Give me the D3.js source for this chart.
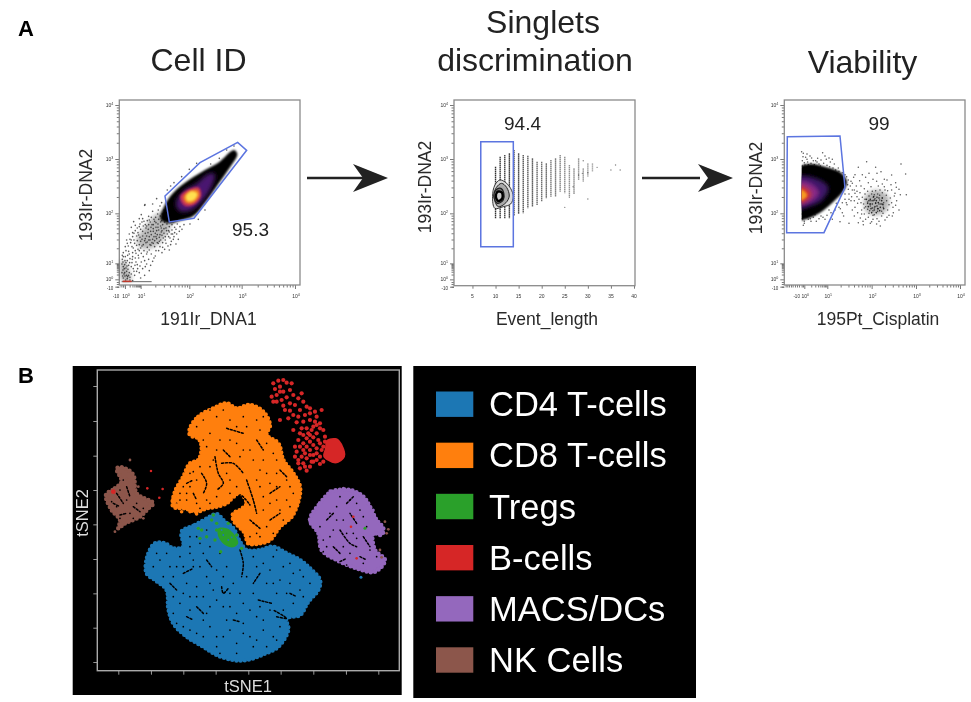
<!DOCTYPE html>
<html><head><meta charset="utf-8">
<script src="https://cdnjs.cloudflare.com/ajax/libs/d3/7.8.5/d3.min.js"></script>
<style>html,body{margin:0;padding:0;background:#fff}svg{display:block}text{font-family:"Liberation Sans",Arial,sans-serif}</style>
</head><body><div id="c"></div>
<script>
// ---------- labels ----------
const titles = [["Cell ID"],["Singlets","discrimination"],["Viability"]];
const xLabels = ["191Ir_DNA1","Event_length","195Pt_Cisplatin"];
const yLabel = "193Ir-DNA2";
const gateValues = ["95.3","94.4","99"];
const categories = ["CD4 T-cells","CD8 T-cells","Tregs","B-cells","MACS/DCs","NK Cells"];
const colors = ["#1f77b4","#ff7f0e","#2ca02c","#d62728","#9467bd","#8c564b"];
const decadeLabels = ["0","1","2","3","4"];

// ---------- display-channel positions of the biexponential decades ----------
const p1XDecades = [105,152,298,455,615];
const yDecades = [32,80,230,393,555];
const p3XDecades = [178,247,380,513,645];
const eventTicks = [5,10,15,20,25,30,35,40];
const eventPositions = [158,228,295,364,433,503,572,642];

// ---------- panel 1 (191Ir vs 193Ir channels) ----------
const p1Gate = [[225,282],[330,382],[443,443],[470,419],[312,215],[238,204]];
const p1Black = [[222,250],[250,292],[300,332],[345,360],[385,382],[432,420],[442,408],[418,365],[385,318],[345,262],[310,222],[270,208],[238,200],[212,212]];
const p1Purple = [[258,262],[282,298],[318,318],[355,348],[374,348],[366,312],[332,262],[300,238],[268,238]];
const p1Red = [[270,280],[295,302],[326,308],[334,285],[316,258],[285,252]];
const p1Orange = [[280,278],[298,296],[323,300],[328,282],[310,262],[290,260]];
const p1Yellow = [[288,282],[305,296],[322,289],[311,269],[292,267]];
const p1TailCore = [[225,235],[245,205],[232,170],[195,130],[155,125],[140,150],[165,190],[195,225]];
const p1Corner = [[95,90],[108,80],[118,55],[125,32],[96,28]];
const p1Points = [[210,252],[222,240],[203,228],[188,236],[176,221],[165,256],[150,198],[142,186],[131,205],[128,172],[118,168],[110,150],[106,130],[100,112],[97,92],[96,78],[99,60],[102,48],[148,214],[136,194],[124,188],[115,132],[122,142],[108,118],[132,150],[146,165],[158,176],[170,192],[181,204],[192,212],[204,198],[214,186],[222,170],[236,160],[248,168],[258,182],[244,146],[228,140],[212,150],[198,118],[184,108],[172,128],[160,100],[148,118],[136,96],[126,82],[116,74],[108,66],[118,52],[130,64],[142,76],[154,84],[166,70],[176,92],[188,86],[120,38],[134,44],[148,52],[112,34],[128,28],[105,88],[100,100],[113,104],[128,112],[140,134],[152,146],[166,154],[178,160],[190,176],[202,166],[215,208],[228,216],[175,182],[162,206],[154,226],[164,254],[188,258],[200,274],[215,262],[232,300],[242,312],[252,322],[275,340],[298,362],[320,380],[362,378],[388,395],[410,420],[432,432],[425,396],[402,382],[392,350],[205,140],[218,128],[238,120],[258,138],[265,152],[172,144],[183,134],[194,148],[145,104],[156,132],[116,116],[104,76],[110,44],[140,56],[152,36],[164,44],[178,58],[270,190],[282,196],[300,198],[325,212],[345,240]];
const p1PointsB = [[206,212],[212,204],[218,196],[224,204],[231,198],[238,190],[246,196],[254,188],[262,198],[198,202],[190,196],[183,188],[176,196],[168,186],[160,192],[152,182],[144,172],[136,178],[128,160],[120,152],[112,140],[126,130],[134,140],[142,148],[150,158],[158,162],[166,170],[174,172],[182,176],[190,184],[198,188],[206,180],[214,174],[222,184],[230,178],[238,174],[246,180],[254,172],[226,160],[216,164],[208,158],[200,154],[192,160],[184,166],[176,150],[168,142],[160,136],[152,126],[144,122],[136,118],[128,100],[120,94],[112,88],[106,100],[118,108],[130,126],[138,110],[146,96],[154,110],[162,118],[170,108],[178,120],[186,142],[194,130],[202,142],[210,130],[218,142],[226,150],[234,132],[242,136],[250,152],[196,170],[204,188],[188,152],[180,136],[172,114],[164,88],[150,72],[138,84],[124,70],[114,62],[104,52],[98,42],[100,70],[108,82],[96,52],[97,104],[103,64],[110,56],[116,44],[124,48],[132,56],[100,36],[107,30],[113,40],[120,30],[99,84],[105,42],[111,72],[119,82],[127,92],[135,74],[143,64],[158,64],[170,78],[182,74],[196,102],[206,118],[216,112],[224,122],[192,96],[236,178],[244,168],[252,160],[260,168],[268,176],[276,182],[211,222],[217,228],[205,240],[197,218],[184,218],[172,208],[158,214],[140,162],[132,170],[124,150],[210,166],[220,156],[232,168],[240,156],[186,196],[194,206],[178,210],[166,196],[156,204],[148,190],[200,178],[212,192],[228,186],[234,208],[242,214],[252,206],[260,210],[170,162],[164,148],[156,152],[148,136],[180,150],[190,140],[198,160],[208,146],[216,178]];
const p1Axis = [[95,25],[185,25]];
const p1AxisHot = [[98,26],[125,26]];

// ---------- panel 2 (event length vs 193Ir channel) ----------
const p2Gate = [[6.8,445],[13.85,445],[13.85,130],[6.8,130]];
const p2Columns = [[10,370,215],[11,400,215],[12,405,215],[13,410,215],[14,420,222],[15,410,228],[16,405,230],[17,403,245],[18,395,250],[19,385,255],[20,385,265],[21,380,275],[22,390,280],[23,395,280],[24,405,295],[25,400,290],[26,375,280],[27,365,290],[28,395,330],[29,365,325],[30,380,340],[31,380,355]];
const p2Points = [[32,368],[35,360],[36,375],[37,360],[25,248],[30,273],[27,290],[26,278],[28,345],[29,388],[26.8,310],[28.8,350],[30,352]];
const p2Contours = [
 [[9.35,280],[9.86,315],[10.94,330],[12.25,322],[13.26,305],[13.84,280],[13.26,258],[11.67,250],[9.86,245]],
 [[9.64,282],[10.2,308],[11.3,320],[12.39,308],[12.97,282],[12.25,262],[10.58,250]],
 [[9.64,282],[10.07,300],[11.16,305],[11.8,290],[11.67,270],[10.36,260]],
 [[10.07,280],[10.5,295],[11.38,292],[11.45,275],[10.58,267]]];

// ---------- panel 3 (195Pt vs 193Ir channels) ----------
const p3Gate = [[127,460],[285,462],[300,307],[237,172],[125,172]];
const p3Black = [[165,368],[200,378],[245,368],[288,352],[306,325],[296,298],[262,262],[225,232],[182,212],[165,210]];
const p3Purple = [[160,338],[212,335],[250,308],[232,270],[190,250],[160,245]];
const p3Magenta = [[160,325],[200,318],[222,292],[198,265],[160,258]];
const p3Red = [[160,312],[188,302],[198,285],[178,265],[160,262]];
const p3Orange = [[160,302],[180,295],[186,283],[172,270],[160,268]];
const p3CloudCore = [[360,280],[395,300],[430,280],[425,240],[395,225],[365,235]];
const p3Points = [[175,410],[182,398],[195,402],[205,388],[218,395],[233,412],[244,392],[256,384],[268,378],[178,382],[190,376],[222,378],[280,366],[262,392],[172,228],[178,206],[175,194],[190,212],[205,218],[214,206],[228,222],[240,212],[252,240],[263,228],[274,260],[286,244],[296,222],[312,200],[300,272],[312,288],[322,300],[334,312],[344,328],[352,346],[305,340],[318,326],[330,346],[340,368],[365,385],[372,350],[392,368],[408,355],[418,332],[440,345],[468,378],[482,348],[452,322],[462,302],[484,286],[345,292],[358,304],[370,322],[382,296],[395,326],[405,300],[418,310],[428,298],[438,316],[450,290],[348,262],[360,272],[372,282],[385,278],[398,288],[412,276],[425,268],[440,262],[455,268],[462,240],[350,240],[362,250],[375,258],[388,246],[402,258],[415,248],[428,240],[445,232],[358,228],[372,230],[384,224],[396,214],[410,222],[420,210],[432,224],[380,205],[395,198],[362,212],[346,216],[330,248],[318,268],[306,256],[292,232],[336,280],[322,240],[340,202],[355,196],[285,205],[262,212],[378,268],[392,262],[404,270],[368,242],[384,238],[398,236],[410,236],[376,252],[390,274],[416,262],[352,278],[338,260],[330,290]];
const p3PointsB = [[172,372],[180,375],[188,384],[198,380],[208,376],[216,384],[226,372],[236,380],[246,374],[254,370],[264,366],[272,360],[282,356],[292,352],[300,346],[172,388],[186,392],[200,396],[212,388],[228,390],[174,400],[170,415],[186,408],[240,402],[252,396],[310,330],[316,312],[322,320],[328,300],[336,296],[310,302],[312,272],[320,280],[328,268],[304,262],[292,262],[282,248],[270,240],[258,232],[246,224],[234,218],[222,214],[210,226],[198,206],[186,220],[172,214],[178,200],[196,214],[300,288],[308,316],[326,338],[348,312],[362,338],[384,332],[396,350],[412,318],[426,330],[440,300],[454,308],[368,296],[378,310],[388,286],[400,312],[412,292],[424,284],[436,276],[448,282],[356,258],[368,264],[380,288],[392,298],[404,284],[420,300],[432,256],[444,248],[452,254],[358,246],[370,218],[384,212],[402,206],[414,230],[426,218],[374,238],[388,226],[400,244],[412,258],[360,288],[342,272],[350,228],[338,232],[328,222],[376,200],[406,192],[354,206],[442,222],[466,286]];
const p3CloudDense = [[368,260],[376,272],[386,280],[394,268],[402,276],[410,268],[414,256],[406,248],[396,252],[388,240],[378,244],[370,250],[382,258],[392,260],[400,262],[384,268],[376,258],[408,258],[390,250],[398,244],[372,268],[404,238],[380,232],[394,232],[416,244],[364,272],[382,246],[412,276],[388,270],[396,278]];

// ---------- tSNE panel: cluster outlines, gaps and loose cells ----------
const cd4Outline = [[33.5,48.5],[37.5,50.5],[42,53],[44,53.8],[46.5,51.5],[49,49.5],[51,45.5],[53,43],[57,43],[61,44],[65,42],[69,40],[72,37.5],[75,34],[74.5,31],[71.5,27.5],[69,23.5],[65,22.5],[65.5,19],[62.5,14],[57.5,11.5],[53,10],[49,10],[44,11.5],[40,14],[35,17],[31,21],[29.5,25.5],[29,31],[25.5,34],[23,36],[23.2,41],[25.5,45],[28.5,45],[31,43.5],[34,44]];
const cd8Outline = [[36,79.5],[38.5,83],[43,85.5],[47,87],[50,85.5],[54,86.5],[58,84.5],[60,80.5],[59,77.5],[62.5,75],[64,70],[67,66],[69,62],[68.5,57.5],[66.5,53],[63,50],[60,46],[57,45],[53.5,45],[52.5,48],[49,52],[49,54],[51,55],[53,57],[51,60],[48,58],[47,57],[44,56],[41,55.5],[38,54.5],[34.5,55.5],[31,56],[31.5,60.5],[34,65],[36,69],[38.5,70],[39.5,74],[38.5,76.5],[36,77.5]];
const tregOutline = [[44.5,49.5],[47,49.5],[49,48],[50.5,45],[49,43.8],[46.5,44.5],[44.5,47]];
const bDense = [[77,76],[80,76.5],[82,74],[82.5,71],[80,69],[78,69.5],[76,71],[76.5,73.5]];
const macsOutline = [[72,52],[75,57],[78.5,60.5],[84,61],[88,59],[90,56],[92,52],[94,49.5],[93.5,47.5],[91,48],[91.5,43],[94.5,40],[91.5,36.5],[86,37.5],[80,40],[75.5,43],[74.5,48]];
const nkOutline = [[10.8,59.5],[13.5,61.5],[15.5,63.5],[14,67.5],[16.5,67.5],[19,65.5],[20,60],[25,57],[23.5,55.5],[21,53],[16.5,51],[14.5,49.5],[15,52],[12.5,55]];
const cd4Gaps = [[[51,43],[52,39],[51.5,35]],[[56.5,28],[60.5,27]],[[62,23],[65,22.5],[61,25]],[[45.5,32],[46,30],[47.5,31.5]],[[34,36],[37,37.5]],[[30,33],[32,31]],[[41,40],[42.5,38]],[[49,22],[51,21.5]],[[38,26],[40,24]],[[66,30],[68,29]],[[35,23],[37,22]],[[57,36],[55,33]]];
const cd8Gaps = [[[39.5,66],[41,63],[40,60]],[[43.5,71],[44.5,66],[46,63],[44,61]],[[45.5,69],[49,69],[52,66]],[[53,64],[55,58],[56,54]],[[47,79.5],[52,78]],[[49,55],[51,59.5],[54,56.5]],[[54,52],[57,49.5]],[[60,52],[63,54]],[[60,60],[63,62]],[[56,76],[58,73]],[[37,60],[38,58]],[[46,73],[48,71]],[[35,63],[37,64]],[[63,67],[65,65]]];
const macsGaps = [[[81,49],[84,45],[86,44]],[[86,51],[84,54]],[[79,44],[81,42]],[[88,47],[90,44]],[[77,52],[79,54]],[[83,57],[85,59]],[[87,41],[89,40]],[[81,39.5],[83,40.5]]];
const nkGaps = [[[14,60],[16,57]],[[17,62],[18,59]],[[19,56],[21,54.5]],[[15,53.5],[17,54]],[[13,57],[15,56]]];
const cd4Speckle = [[27,40],[30,38],[33,41],[36,42],[39,45],[36,47],[28,35],[31,35],[35,33],[38,32],[41,35],[44,37],[47,38],[45,42],[55,41],[58,39],[61,41],[64,38],[67,36],[70,35],[63,34],[59,33],[66,33],[69,31],[62,30],[55,30],[52,27],[48,26],[44,28],[40,29],[36,29],[33,27],[31,24],[34,20],[38,18],[42,20],[46,17],[50,15],[54,17],[58,19],[61,17],[63,20],[56,23],[52,18],[44,14],[47,22],[41,24],[37,38],[60,25],[55,14],[25,38],[26,42],[29,42],[32,38],[34,38],[37,40],[40,42],[42,44],[39,38],[42,33],[46,35],[49,33],[53,35],[56,38],[60,37],[62,43],[66,39],[69,37],[72,33],[70,29],[67,27],[64,25],[58,22],[54,25],[50,24],[46,26],[42,26],[38,29],[34,30],[31,29],[32,21],[36,19],[40,17],[44,17],[48,19],[52,21],[56,16],[59,14],[62,16],[50,12],[45,12],[40,22],[36,25],[43,31],[48,30],[51,30],[57,26],[61,33],[65,30],[36,44],[41,49],[38,47]];
const cd8Speckle = [[40,82],[44,83],[48,82],[52,83],[56,82],[57,79],[42,78],[45,76],[41,74],[44,73],[50,75],[54,73],[58,70],[61,72],[62,66],[59,66],[57,62],[60,57],[65,58],[63,55],[58,55],[61,48],[57,47],[55,51],[66,62],[48,64],[50,62],[44,59],[41,58],[38,57],[35,58],[33,58],[36,66],[38,64],[35,60],[42,68],[57,67],[66,56],[51,71],[55,70],[38,80],[42,85],[46,85],[50,80],[53,80],[58,83],[48,76],[52,73],[43,70],[40,76],[59,75],[62,70],[65,64],[62,62],[67,60],[60,63],[56,64],[58,59],[62,58],[64,52],[59,50],[56,48],[54,47],[48,60],[47,66],[34,62],[33,60],[36,62],[32,57],[39,55.5],[42,57],[37,66.5],[39,68]];
const bLoose = [[61,93],[62.5,93.8],[64,94],[65,93.2],[63,92],[61.5,91.3],[60.5,89],[62,89.5],[64,90.5],[66,91],[65,88.8],[63.5,88],[62,87.5],[67,89.5],[68.5,88.5],[66,87],[64,86.3],[67.5,86.5],[70,87.5],[71,86],[69,85],[66,84.8],[63,82],[68.5,83],[70.5,83.5],[72,84],[73.5,84.5],[75.5,85],[74,83],[72,82],[70,81.5],[68,81.3],[71,79.5],[73,80],[75,81],[76,79],[74,78],[72,77.5],[70,77.5],[68.5,76],[70,75],[72,75.5],[74.5,76],[76.5,77],[78,75],[76,74],[74,73.5],[72,73],[70,73],[68,72.5],[69.5,71],[71,70.5],[73,71.5],[75,71],[70,69],[72,68],[73,69.5],[69,67.5],[71,66.8],[77,72],[76,69.5],[78,71],[79,73.5],[80,74.5],[69.5,79.5],[71.5,78],[73,76.8],[75,79.5],[72.5,79],[74,80.5],[71,76.5],[69,74],[71,74],[73,74.5],[75,75],[76.5,75.5],[68.5,70],[70.5,72],[72,71.5],[74,72],[75.5,73],[74,70],[75,68.8],[72.5,69.5],[70.5,68],[68.5,69],[67.5,71],[67.5,74],[69,78],[67,79],[65.5,82.5],[67,83.5],[72,85.5],[73.5,81.5],[63,90.5],[66.5,93],[61,87.5],[69.5,90],[64.5,85]];
const orangeLoose = [[32,56.5],[33.5,54.5],[35.5,56],[31,58.5],[33,62],[35,66],[36.5,68.5],[36,54.5],[38,53.8]];
const macsLoose = [[91,55],[90.5,53],[78,60.8],[82,61.5],[86.5,60],[72,51.5],[73,54]];
const nkLoose = [[18,70],[15.5,68],[13.5,48.5],[12,58],[20.5,62],[24,56.5],[22,52.5],[17,64.5]];
const tregLoose = [[43,53.5],[42.5,52],[44,51],[38.5,49.5],[39,46.5],[41,47],[51.5,43.5],[45.2,42.5],[39.5,49],[46,48],[44,49],[43.5,46],[47.5,51],[50,47.5]];
const tregBlueFlecks = [[46,47.5],[47.5,46],[48.5,46.8],[45.5,49]];
const macsSpeckle = [[78,47],[82,52],[88,53],[76,46],[84,42],[88,39],[80,56],[86,57],[75,50],[78,54],[80,52],[83,48],[85,48],[79,49],[77,44],[82,44],[90,43],[92,41],[87,55],[84,58],[81,59],[89,50],[76,42.5],[83,38.5],[86,46.5]];
const nkSpeckle = [[17,58],[14,56],[18,54],[20,57],[15,61],[16,64],[12.5,57.5],[19,52.5],[22,55.5],[15,52.5]];
const bSpeckle = [[79,72],[78,74.5],[80.5,71.5]];
const redStray = [[24.3,66.7],[23.2,61.5],[27.8,61.3],[26.8,58.7],[85,53],[84.3,50],[86,40.5]];
const redBig = [[13,60.5]];
const greenStray = [[88.5,49.5]];
const brownStray = [[94.5,51.5],[95.5,49.2],[95,48],[93.5,40.8],[93,43]];
const blueStray = [[87.3,34.8]];

const W=971,H=702;
const svg=d3.select("#c").append("svg").attr("width",W).attr("height",H);
const defs=svg.append("defs");
const addBlur=(id,s)=>defs.append("filter").attr("id",id).attr("x","-20%").attr("y","-20%").attr("width","140%").attr("height","140%").append("feGaussianBlur").attr("stdDeviation",s);
addBlur("b0",0.55);addBlur("b1",0.8);addBlur("b3",2.2);
const root=svg.append("g").attr("filter","url(#b0)");

root.append("text").attr("x",18).attr("y",36).attr("font-size",22).attr("font-weight",700).attr("font-family","Open Sans").text("A");
root.append("text").attr("x",18).attr("y",383).attr("font-size",22).attr("font-weight",700).attr("font-family","Open Sans").text("B");
const titleX=[[198.5],[543,535],[862.5]],titleY=[[71],[33,71],[73]];
titles.forEach((t,i)=>t.forEach((s,j)=>root.append("text").attr("x",titleX[i][j]).attr("y",titleY[i][j]).attr("text-anchor","middle").attr("font-size",32).attr("fill","#222").text(s)));

function decadeTicks(dec,below){
  const out=[];
  for(let i=0;i<dec.length-1;i++)for(let k=2;k<10;k++)out.push(dec[i]+(dec[i+1]-dec[i])*Math.log10(k));
  return out.concat(below);
}
function sup(sel,base,exp){sel.append("tspan").text(base);sel.append("tspan").attr("font-size",3.6).attr("dy",-2).text(exp);}

function panel(cfg){
  const g=root.append("g");
  const x=d3.scaleLinear().domain(cfg.xd).range(cfg.xr);
  const y=d3.scaleLinear().domain(cfg.yd).range(cfg.yr);
  const [l,r]=cfg.xr,[b,t]=cfg.yr;
  const axY=g.append("g").attr("transform",`translate(${l},0)`);
  axY.append("g").call(d3.axisLeft(y).tickValues(decadeTicks(yDecades,[10,18,24])).tickSize(2.5).tickFormat(""));
  axY.append("g").call(d3.axisLeft(y).tickValues(yDecades.concat([10])).tickSize(4).tickFormat(""));
  axY.selectAll("path").remove();axY.selectAll("line").attr("stroke","#555").attr("stroke-width",.8);
  yDecades.forEach((v,i)=>{const s=g.append("text").attr("x",l-6).attr("y",y(v)+1.5).attr("text-anchor","end").attr("font-size",5).attr("fill","#333");sup(s,"10",decadeLabels[i]);});
  g.append("text").attr("x",l-6).attr("y",y(10)+3).attr("text-anchor","end").attr("font-size",4.5).attr("fill","#333").text("-10");
  const axX=g.append("g").attr("transform",`translate(0,${b})`);
  if(cfg.xDec){
    axX.append("g").call(d3.axisBottom(x).tickValues(decadeTicks(cfg.xDec,cfg.xBelow)).tickSize(2.5).tickFormat(""));
    axX.append("g").call(d3.axisBottom(x).tickValues(cfg.xDec).tickSize(4).tickFormat(""));
    cfg.xDec.forEach((v,i)=>{const s=g.append("text").attr("x",x(v)+1).attr("y",b+13).attr("text-anchor","middle").attr("font-size",5).attr("fill","#333");sup(s,"10",decadeLabels[i]);});
    g.append("text").attr("x",x(cfg.xNeg)).attr("y",b+13).attr("text-anchor","middle").attr("font-size",4.5).attr("fill","#333").text("-10");
  } else {
    axX.append("g").call(d3.axisBottom(x).tickValues(eventTicks).tickSize(3).tickFormat(""));
    eventTicks.forEach(v=>g.append("text").attr("x",x(v)).attr("y",b+12).attr("text-anchor","middle").attr("font-size",5).attr("fill","#333").text(v));
  }
  axX.selectAll("path").remove();axX.selectAll("line").attr("stroke","#555").attr("stroke-width",.8);
  g.append("rect").attr("x",l).attr("y",t).attr("width",r-l).attr("height",b-t).attr("fill","none").attr("stroke","#8a8a8a").attr("stroke-width",1.3);
  g.append("text").attr("transform",`translate(${cfg.ylx},${cfg.yly}) rotate(-90)`).attr("text-anchor","middle").attr("font-size",17.5).attr("fill","#2a2a2a").text(yLabel);
  g.append("text").attr("x",cfg.xlx).attr("y",325).attr("text-anchor","middle").attr("font-size",17.5).attr("fill","#2a2a2a").text(cfg.xl);
  g.append("text").attr("x",cfg.vx).attr("y",cfg.vy).attr("text-anchor","middle").attr("font-size",19).attr("fill","#222").text(cfg.v);
  return {g,x,y,line:d3.line().x(d=>x(d[0])).y(d=>y(d[1]))};
}
function blob(p,c,data,fill,f){p.append("path").attr("d",c.line.curve(d3.curveCatmullRomClosed)(data)).attr("fill",fill).attr("filter",f?`url(#${f})`:null);}
function gate(c,data){c.g.append("path").attr("d",c.line.curve(d3.curveLinearClosed)(data)).attr("fill","none").attr("stroke","#5b74e0").attr("stroke-width",1.5);}
function dots(c,data,r,o){c.g.append("g").selectAll("circle").data(data).join("circle").attr("cx",d=>c.x(d[0])).attr("cy",d=>c.y(d[1])).attr("r",r).attr("fill","#111").attr("opacity",o);}

// Panel 1
const c1=panel({xd:[88,630],xr:[119.3,300],yd:[15,570],yr:[285,100],xDec:p1XDecades,xBelow:[92,98,100],xNeg:78,xl:xLabels[0],xlx:208.5,ylx:92,yly:195,v:gateValues[0],vx:250.5,vy:236});
blob(c1.g,c1,p1TailCore,"rgba(0,0,0,.28)","b3");
blob(c1.g,c1,p1Corner,"rgba(0,0,0,.3)","b3");
dots(c1,p1Points,.8,.7);
dots(c1,p1PointsB,.8,.7);
c1.g.append("path").attr("d",c1.line.curve(d3.curveLinear)(p1Axis)).attr("stroke","#666").attr("stroke-width",1);
c1.g.append("path").attr("d",c1.line.curve(d3.curveLinear)(p1AxisHot)).attr("stroke","#c0392b").attr("stroke-width",1.6);
blob(c1.g,c1,p1Black,"#060406","b1");
blob(c1.g,c1,p1Purple,"#4a1670","b3");
blob(c1.g,c1,p1Red,"#c4305a","b1");
blob(c1.g,c1,p1Orange,"#f08020","b1");
blob(c1.g,c1,p1Yellow,"#ffe050","b1");
gate(c1,p1Gate);

// Panel 2
const evPx=d3.scaleLinear().domain(eventTicks).range(eventPositions);
const c2=panel({xd:[evPx.invert(102),evPx.invert(645)],xr:[454,635],yd:[13,570],yr:[285.7,100],xl:xLabels[1],xlx:547,ylx:431,yly:187,v:gateValues[1],vx:522.5,vy:130});
c2.g.append("g").selectAll("line").data(p2Columns).join("line")
  .attr("x1",d=>c2.x(d[0])).attr("x2",d=>c2.x(d[0])).attr("y1",d=>c2.y(d[1])).attr("y2",d=>c2.y(d[2]))
  .attr("stroke",d=>d3.interpolateRgb("#333","#b0b0b0")((d[0]-10)/21)).attr("stroke-width",1.4).attr("stroke-dasharray","1.6 .4");
dots(c2,p2Points,.7,.5);
p2Contours.forEach((ct,i)=>c2.g.append("path").attr("d",c2.line.curve(d3.curveCatmullRomClosed)(ct)).attr("fill",["#ddd","#aaa","#777","#ccc"][i]).attr("stroke",i==3?"#000":"#222").attr("stroke-width",[.9,1,1.2,2.4][i]));
gate(c2,p2Gate);

// Panel 3
const c3=panel({xd:[118,660],xr:[784.3,965],yd:[15,570],yr:[285,100],xDec:p3XDecades,xBelow:[122,127,132,138,143,150,156,162,170,174],xNeg:155,xl:xLabels[2],xlx:878,ylx:762,yly:188,v:gateValues[2],vx:879,vy:130});
blob(c3.g,c3,p3CloudCore,"rgba(0,0,0,.3)","b3");
dots(c3,p3Points,.75,.7);
dots(c3,p3PointsB,.75,.7);
dots(c3,p3CloudDense,.8,.85);
defs.append("clipPath").attr("id","cp3").append("rect").attr("x",c3.x(170)).attr("y",100).attr("width",200).attr("height",185);
const d3g=c3.g.append("g").attr("clip-path","url(#cp3)").append("g");
blob(d3g,c3,p3Black,"#060406","b1");
blob(d3g,c3,p3Purple,"#3d1268","b3");
blob(d3g,c3,p3Magenta,"#8a2a85","b3");
blob(d3g,c3,p3Red,"#d8382a","b3");
blob(d3g,c3,p3Orange,"#f59a20","b1");
gate(c3,p3Gate);

// arrows
[[307,360,388],[642,695,733]].forEach(a=>{
  const [x0,x1,x2]=a,yA=178,gA=root.append("g");
  gA.append("line").attr("x1",x0).attr("x2",x1+5).attr("y1",yA).attr("y2",yA).attr("stroke","#222").attr("stroke-width",2.4);
  gA.append("path").attr("fill","#222").attr("d",`M${x2},${yA}L${x2-35},${yA-14}L${x2-25},${yA}L${x2-35},${yA+14}Z`);
});

// tSNE panel
root.append("rect").attr("x",72.7).attr("y",366).attr("width",329).attr("height",329).attr("fill","#000");
const tX=d3.scaleLinear().domain([8.2,98.8]).range([97.3,399.3]);
const tY=d3.scaleLinear().domain([6.8,97]).range([670.7,370]);
const tLine=d3.line().x(d=>tX(d[0])).y(d=>tY(d[1]));
const tg=root.append("g");
const xTickVals=[14.5,24.3,34,43.7,53.5,63.2,73,82.8,92.5],yTickVals=[92.2,81.7,71.3,61,50.7,40.3,30,19.7,9.4];
const ax=tg.append("g").attr("transform","translate(0,670.7)").call(d3.axisBottom(tX).tickValues(xTickVals).tickSize(4).tickFormat(""));
const ay=tg.append("g").attr("transform","translate(97.3,0)").call(d3.axisLeft(tY).tickValues(yTickVals).tickSize(4).tickFormat(""));
[ax,ay].forEach(a=>{a.selectAll("path").remove();a.selectAll("line").attr("stroke","#999").attr("stroke-width",1);});
tg.append("rect").attr("x",97.3).attr("y",370).attr("width",302).attr("height",300.7).attr("fill","none").attr("stroke","#aaa").attr("stroke-width",1.4);
tg.append("text").attr("x",248).attr("y",692).attr("text-anchor","middle").attr("font-size",16.5).attr("fill","#ddd").text("tSNE1");
tg.append("text").attr("transform","translate(88,513) rotate(-90)").attr("text-anchor","middle").attr("font-size",16.5).attr("fill","#ddd").text("tSNE2");

function cluster(outline,color,gaps,speckle){
  const d=tLine.curve(d3.curveCatmullRomClosed)(outline);
  tg.append("path").attr("d",d).attr("fill",color);
  tg.append("path").attr("d",d).attr("fill","none").attr("stroke",color).attr("stroke-width",4.5).attr("stroke-linecap","round").attr("stroke-dasharray","0 4.2");
  tg.append("g").selectAll("path").data(gaps).join("path").attr("d",g=>tLine.curve(d3.curveCatmullRom)(g)).attr("fill","none").attr("stroke","#000").attr("stroke-width",1.5).attr("stroke-linecap","round").attr("stroke-dasharray","2 1.8");
  tg.append("g").selectAll("circle").data(speckle).join("circle").attr("cx",p=>tX(p[0])).attr("cy",p=>tY(p[1])).attr("r",.85).attr("fill","#000");
}
function loose(data,color,r){tg.append("g").selectAll("circle").data(data).join("circle").attr("cx",p=>tX(p[0])).attr("cy",p=>tY(p[1])).attr("r",r).attr("fill",color);}
cluster(cd4Outline,colors[0],cd4Gaps,cd4Speckle);
cluster(cd8Outline,colors[1],cd8Gaps,cd8Speckle);
loose(orangeLoose,colors[1],1.8);
tg.append("path").attr("d",tLine.curve(d3.curveCatmullRomClosed)(tregOutline)).attr("fill",colors[2]);
loose(tregLoose,colors[2],1.7);
loose(tregBlueFlecks,colors[0],.9);
loose(bLoose,colors[3],2.1);
tg.append("path").attr("d",tLine.curve(d3.curveCatmullRomClosed)(bDense)).attr("fill",colors[3]);
cluster(macsOutline,colors[4],macsGaps,macsSpeckle);
loose(macsLoose,colors[4],1.5);
cluster(nkOutline,colors[5],nkGaps,nkSpeckle);
loose(nkLoose,colors[5],1.4);
loose(redStray,colors[3],1.3);loose(redBig,colors[3],2.4);
loose(greenStray,colors[2],1.5);loose(brownStray,colors[5],1.4);loose(blueStray,colors[0],1.5);

// legend
root.append("rect").attr("x",413.3).attr("y",366).attr("width",282.7).attr("height",332).attr("fill","#000");
const legY=d3.scalePoint().domain(categories).range([404.2,660]);
const lg=root.append("g").selectAll("g").data(categories).join("g").attr("transform",d=>`translate(0,${legY(d)})`);
lg.append("rect").attr("x",436).attr("y",-12.7).attr("width",37.3).attr("height",25.4).attr("fill",(d,i)=>colors[i]);
lg.append("text").attr("x",489).attr("y",12).attr("font-size",34.5).attr("fill","#fff").text(d=>d);
</script></body></html>
